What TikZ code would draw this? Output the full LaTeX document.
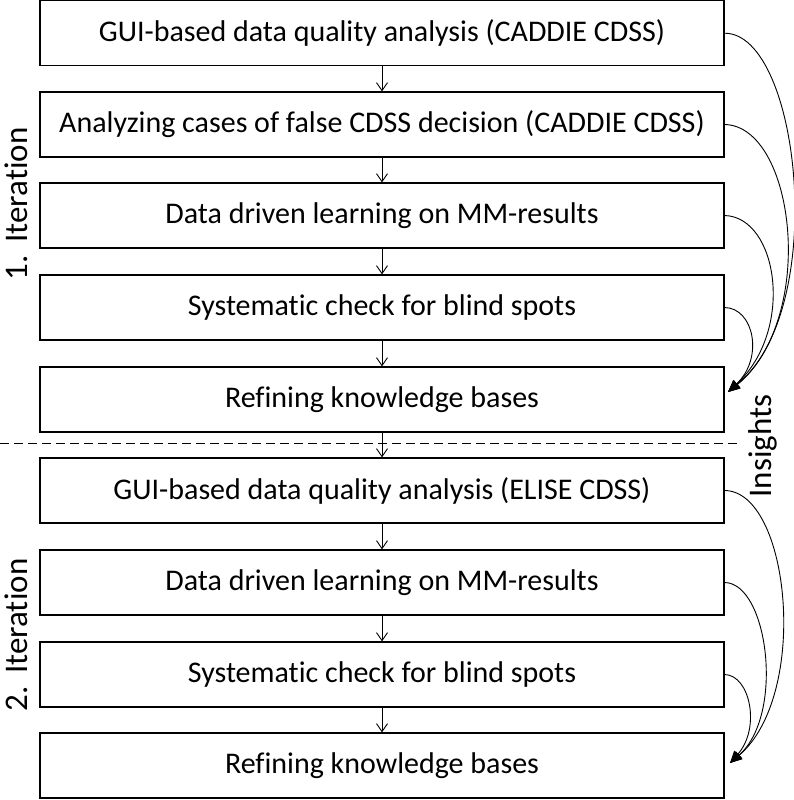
\documentclass[tikz,border=0pt]{standalone}
\usepackage{fontspec}
\setmainfont{Carlito}[Ligatures=NoCommon]
\usetikzlibrary{arrows.meta}
\begin{document}
\begin{tikzpicture}[x=1pt,y=1pt,
 box/.style={draw, line width=1.2pt, minimum width=684pt, minimum height=65pt, inner sep=0pt, font=\fontsize{30}{34}\selectfont},
 flow/.style={-{Straight Barb[length=8pt,width=11pt]}, line width=0.9pt},
 ins/.style={-{Triangle[length=12pt,width=10pt]}, line width=0.9pt},
 lab/.style={font=\fontsize{33}{36}\selectfont, rotate=90, inner sep=0pt}]
\useasboundingbox (0,0) rectangle (794,-800);
\node[box] (b1) at (382,-33.2) {GUI-based data quality analysis (CADDIE CDSS)};
\node[box] (b2) at (382,-124.5) {Analyzing cases of false CDSS decision (CADDIE CDSS)};
\node[box] (b3) at (382,-215.5) {Data driven learning on MM-results};
\node[box] (b4) at (382,-307.5) {Systematic check for blind spots};
\node[box] (b5) at (382,-399.5) {Refining knowledge bases};
\node[box] (b6) at (382,-490.5) {GUI-based data quality analysis (ELISE CDSS)};
\node[box] (b7) at (382,-582.5) {Data driven learning on MM-results};
\node[box] (b8) at (382,-674.5) {Systematic check for blind spots};
\node[box] (b9) at (382,-765.5) {Refining knowledge bases};
\foreach \a/\b in {b1/b2,b2/b3,b3/b4,b4/b5,b5/b6,b6/b7,b7/b8,b8/b9}
  \draw[flow] (\a) -- (\b);
\coordinate (t1) at (728,-392);
\coordinate (t2) at (730,-763);
\draw[ins] (b1.east) .. controls (800,-33) and (830,-310) .. (t1);
\draw[ins] (b2.east) .. controls (795,-126) and (818,-318) .. (t1);
\draw[ins] (b3.east) .. controls (778,-217) and (795,-330) .. (t1);
\draw[ins] (b4.east) .. controls (754,-308) and (764,-358) .. (t1);
\draw[ins] (b6.east) .. controls (790,-491) and (810,-695) .. (t2);
\draw[ins] (b7.east) .. controls (768,-583) and (785,-715) .. (t2);
\draw[ins] (b8.east) .. controls (750,-675) and (761,-728) .. (t2);
\coordinate (dl) at (0,-443);
\coordinate (dr) at (740,-443);
\draw[dash pattern=on 9pt off 5pt, line width=1pt] (dl) -- (dr);
\node[lab] (it1) at (16,-204) {1.\ \hspace{5pt}Iteration};
\node[lab] (it2) at (16,-635) {2.\ \hspace{5pt}Iteration};
\node[lab] (insl) at (763,-446) {Insights};
\end{tikzpicture}
\end{document}
